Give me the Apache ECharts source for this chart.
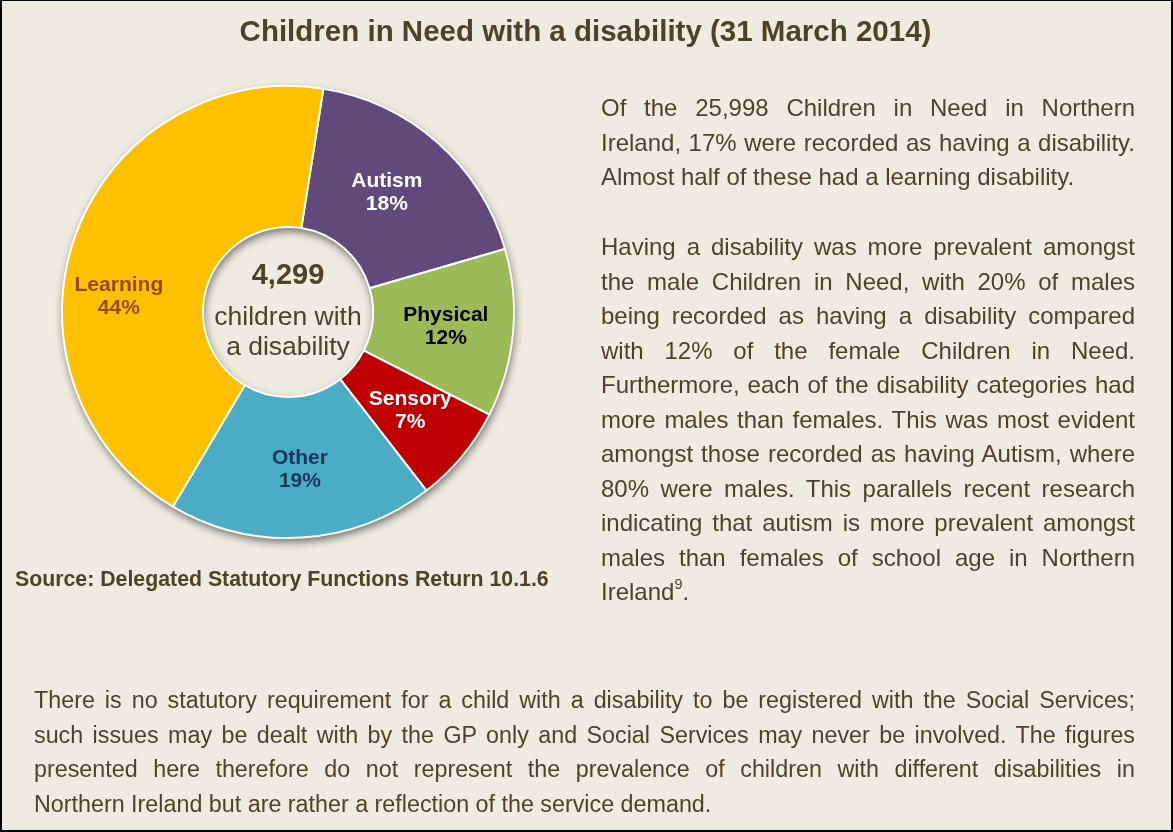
<!DOCTYPE html>
<html>
<head>
<meta charset="utf-8">
<script src="https://cdn.jsdelivr.net/npm/echarts@6/dist/echarts.min.js"></script>
<style>
  html, body { margin: 0; padding: 0; background: #eeece1; }
  #frame { position: relative; width: 1173px; height: 832px; box-sizing: border-box;
           border: 2px solid #000; border-top-width: 1px; background: #eeece1; overflow: hidden; }
  #chart { position: absolute; left: -2px; top: -1px; width: 1173px; height: 832px; }
  .para { position: absolute; color: #4a452a; font-family: "Liberation Sans", Arial, sans-serif; }
  .para div { height: 34.5px; line-height: 34.5px; white-space: nowrap;
              text-align: justify; text-align-last: justify; }
  .para div.last { text-align: left; text-align-last: left; }
  sup { font-size: 60%; line-height: 0; vertical-align: 0.75em; }
</style>
</head>
<body>
<div id="frame">
  <div id="chart"></div>
  <div class="para" id="p1" style="left:599px; top:90px; width:534px; font-size:24px;"></div>
  <div class="para" id="p2" style="left:599px; top:229px; width:534px; font-size:24px;"></div>
  <div class="para" id="p3" style="left:32px; top:682px; width:1101px; font-size:23.3px;"></div>
</div>
<script>
// ---- data ----
const categories = ['Autism', 'Physical', 'Sensory', 'Other', 'Learning'];
const percents = [18, 12, 7, 19, 44];
const totalChildren = '4,299';
const centerLines = ['children with', 'a disability'];
const titleText = 'Children in Need with a disability (31 March 2014)';
const sourceText = 'Source: Delegated Statutory Functions Return 10.1.6';
const para1 = [
  'Of the 25,998 Children in Need in Northern',
  'Ireland, 17% were recorded as having a disability.',
  'Almost half of these had a learning disability.'
];
const para2 = [
  'Having a disability was more prevalent amongst',
  'the male Children in Need, with 20% of males',
  'being recorded as having a disability compared',
  'with 12% of the female Children in Need.',
  'Furthermore, each of the disability categories had',
  'more males than females. This was most evident',
  'amongst those recorded as having Autism, where',
  '80% were males. This parallels recent research',
  'indicating that autism is more prevalent amongst',
  'males than females of school age in Northern',
  'Ireland<sup>9</sup>.'
];
const para3 = [
  'There is no statutory requirement for a child with a disability to be registered with the Social Services;',
  'such issues may be dealt with by the GP only and Social Services may never be involved. The figures',
  'presented here therefore do not represent the prevalence of children with different disabilities in',
  'Northern Ireland but are rather a reflection of the service demand.'
];

// ---- styles ----
const sliceColors = { Autism: '#604a7b', Physical: '#9bbb59', Sensory: '#c00000', Other: '#4bacc6', Learning: '#ffc000' };
const labelColors = { Autism: '#ffffff', Physical: '#000000', Sensory: '#ffffff', Other: '#17375e', Learning: '#984807' };
const labelShift = { Autism: [-6, 0], Physical: [0, 0], Sensory: [0, -2], Other: [2, 0], Learning: [-20, 38] };
const FONT = '"Liberation Sans", Arial, sans-serif';
const TEXT = '#4a452a';

function fillPara(id, lines) {
  const el = document.getElementById(id);
  el.innerHTML = lines.map((l, i) => '<div' + (i === lines.length - 1 ? ' class="last"' : '') + '>' + l + '</div>').join('');
}
fillPara('p1', para1);
fillPara('p2', para2);
fillPara('p3', para3);

const chart = echarts.init(document.getElementById('chart'), null, { renderer: 'canvas' });
const pieCenter = [288, 312];
const pieRadius = [85, 226];

chart.setOption({
  backgroundColor: 'transparent',
  animation: false,
  series: [
    {
      type: 'pie', silent: true, center: pieCenter, radius: pieRadius, z: 1,
      label: { show: false }, labelLine: { show: false }, emphasis: { disabled: true },
      itemStyle: { color: '#d8d6cb', shadowBlur: 9, shadowColor: 'rgba(0,0,0,0.55)', shadowOffsetX: 1, shadowOffsetY: 4 },
      data: [{ value: 1, name: 'shadow' }]
    },
    {
      type: 'pie', center: pieCenter, radius: pieRadius, startAngle: 81, clockwise: true, z: 2,
      avoidLabelOverlap: false, emphasis: { disabled: true },
      itemStyle: { borderColor: '#ffffff', borderWidth: 2 },
      label: {
        show: true, position: 'inside', fontFamily: FONT, fontWeight: 'bold', fontSize: 21, lineHeight: 23,
        formatter: p => p.name + '\n' + p.value + '%'
      },
      labelLine: { show: false },
      labelLayout: params => {
        const s = labelShift[categories[params.dataIndex]];
        return { dx: s[0], dy: s[1] };
      },
      data: categories.map((c, i) => ({
        name: c, value: percents[i],
        itemStyle: { color: sliceColors[c] },
        label: { color: labelColors[c] }
      }))
    }
  ],
  graphic: [
    { type: 'text', x: 585.5, y: 33, style: { text: titleText, fill: TEXT, font: 'bold 29.5px ' + FONT, textAlign: 'center', textVerticalAlign: 'middle' } },
    { type: 'text', x: 288, y: 276, style: { text: totalChildren, fill: TEXT, font: 'bold 29px ' + FONT, textAlign: 'center', textVerticalAlign: 'middle' } },
    { type: 'text', x: 288, y: 318, style: { text: centerLines[0], fill: TEXT, font: '26.5px ' + FONT, textAlign: 'center', textVerticalAlign: 'middle' } },
    { type: 'text', x: 288, y: 348, style: { text: centerLines[1], fill: TEXT, font: '26.5px ' + FONT, textAlign: 'center', textVerticalAlign: 'middle' } },
    { type: 'text', x: 15, y: 580, style: { text: sourceText, fill: TEXT, font: 'bold 21.3px ' + FONT, textAlign: 'left', textVerticalAlign: 'middle' } }
  ]
});
</script>
</body>
</html>
